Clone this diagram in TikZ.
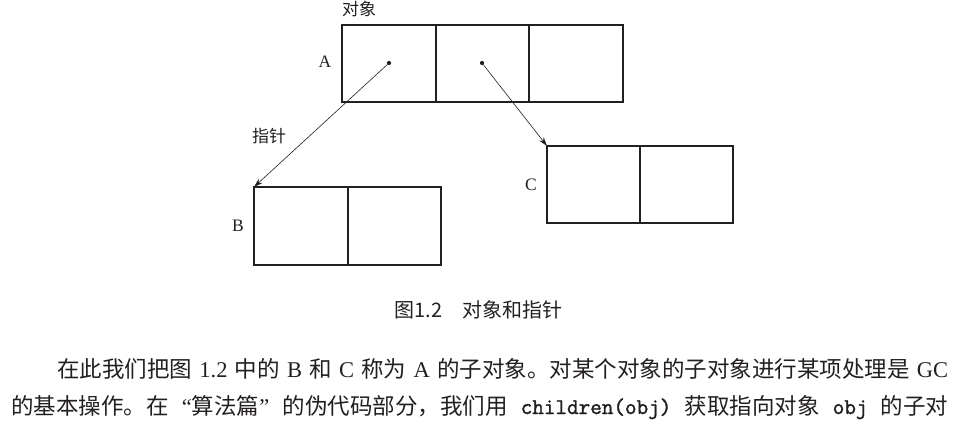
\documentclass[tikz,border=0pt]{standalone}
\usepackage{fontspec}
\setmainfont{Liberation Serif}
\newfontfamily\cjk{Noto Sans CJK SC}
\newfontfamily\codefont[FakeBold=1.6]{Latin Modern Mono}
\usetikzlibrary{arrows.meta,calc}
\definecolor{ink}{HTML}{231F20}
\newcommand\zh[1]{{\cjk #1}}
\newcommand\code[1]{{\codefont #1}}
\begin{document}
\begin{tikzpicture}[x=1pt,y=-1pt,
  objbox/.style={draw=ink,line width=1.8pt,inner sep=0pt,outer sep=0pt,rectangle},
  cellline/.style={draw=ink,line width=1.8pt},
  ptrdot/.style={circle,fill=ink,inner sep=0pt,minimum size=4.2pt,outer sep=0pt},
  ptr/.style={draw=ink,line width=0.6pt,-{Stealth[length=9pt,width=5.5pt]}},
  lbl/.style={inner sep=0pt,text=ink,font=\fontsize{17.5}{20}\selectfont},
  zhlbl/.style={inner sep=0pt,text=ink,font=\cjk\fontsize{17}{20}\selectfont},
  bodyline/.style={inner sep=0pt,anchor=base west,text=ink,font=\fontsize{22.5}{27}\selectfont}]
\useasboundingbox (0,0) rectangle (966,422);

% objects
\node[objbox,minimum width=281pt,minimum height=77pt] (A) at (482.5,63.5) {};
\node[objbox,minimum width=187pt,minimum height=78pt] (B) at (347.5,226) {};
\node[objbox,minimum width=186pt,minimum height=77pt] (C) at (640,184.5) {};

\draw[cellline] ($(A.north west)!1/3!(A.north east)$) -- ($(A.south west)!1/3!(A.south east)$);
\draw[cellline] ($(A.north west)!2/3!(A.north east)$) -- ($(A.south west)!2/3!(A.south east)$);
\draw[cellline] ($(B.north)+(0.5,0)$) -- ($(B.south)+(0.5,0)$);
\draw[cellline] (C.north) -- (C.south);

% pointers
\node[ptrdot] (p1) at (389,63) {};
\node[ptrdot] (p2) at (482,63) {};
\draw[ptr] (p1) -- (B.north west);
\draw[ptr] (p2) -- (C.north west);

% labels
\node[zhlbl,anchor=base west] (lobj) at (342,16) {对象};
\node[zhlbl,anchor=base west] (lptr) at (252,143) {指针};
\node[lbl,anchor=base] (lA) at (325,68) {A};
\node[lbl,anchor=base] (lB) at (238,232) {B};
\node[lbl,anchor=base] (lC) at (531,190) {C};

% caption
\node[inner sep=0pt,anchor=base,text=ink,font=\cjk\fontsize{20}{24}\selectfont] (cap) at (478.5,317) {图1.2\hspace{1em}对象和指针};

% body text
\node[bodyline] (line1) at (57,377) {\XeTeXlinebreaklocale "zh"\XeTeXlinebreakskip=0pt plus 3pt
  \hbox to 891pt{\zh{在此我们把图} 1.2 \zh{中的} B \zh{和} C \zh{称为} A \zh{的子对象。对某个对象的子对象进行某项处理是} GC}};
\node[bodyline] (line2) at (11,414) {\XeTeXlinebreaklocale "zh"\XeTeXlinebreakskip=0pt plus 3pt
  \hbox to 937pt{\zh{的基本操作。在} “\zh{算法篇}” \zh{的伪代码部分，我们用} \code{children(obj)} \zh{获取指向对象} \code{obj} \zh{的子对}}};
\end{tikzpicture}
\end{document}
